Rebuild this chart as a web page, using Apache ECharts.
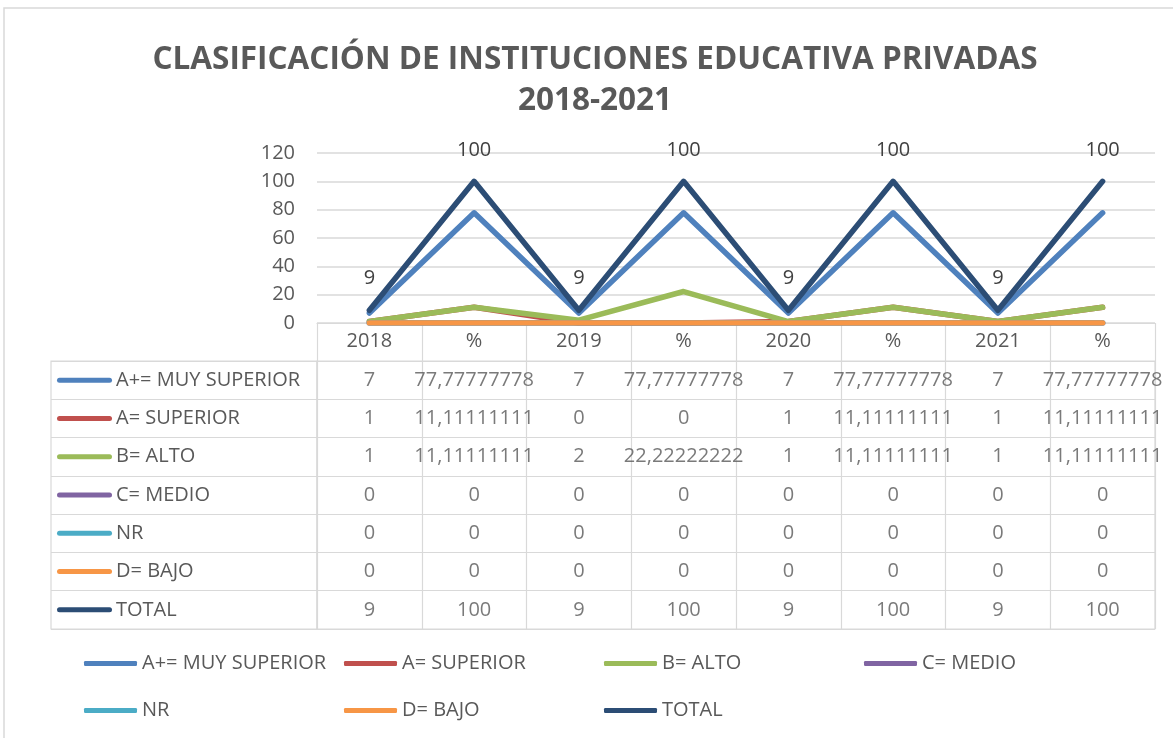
<!DOCTYPE html>
<html>
<head>
<meta charset="utf-8">
<script src="https://cdn.jsdelivr.net/npm/echarts@6/dist/echarts.min.js"></script>
<style>
html,body{margin:0;padding:0;background:#fff;}
#chart{width:1173px;height:738px;}
</style>
</head>
<body>
<div id="chart"></div>
<script>
var titleText = 'CLASIFICACIÓN DE INSTITUCIONES EDUCATIVA PRIVADAS\n2018-2021';
var categories = ['2018', '%', '2019', '%', '2020', '%', '2021', '%'];
var seriesNames = ['A+= MUY SUPERIOR', 'A= SUPERIOR', 'B= ALTO', 'C= MEDIO', 'NR', 'D= BAJO', 'TOTAL'];
var seriesColors = ['#4F81BD', '#C0504D', '#9BBB59', '#8064A2', '#4BACC6', '#F79646', '#2C4D75'];
var muySuperior = [7, 77.77777778, 7, 77.77777778, 7, 77.77777778, 7, 77.77777778];
var superior = [1, 11.11111111, 0, 0, 1, 11.11111111, 1, 11.11111111];
var alto = [1, 11.11111111, 2, 22.22222222, 1, 11.11111111, 1, 11.11111111];
var medio = [0, 0, 0, 0, 0, 0, 0, 0];
var nr = [0, 0, 0, 0, 0, 0, 0, 0];
var bajo = [0, 0, 0, 0, 0, 0, 0, 0];
var total = [9, 100, 9, 100, 9, 100, 9, 100];
var yTicks = {min: 0, max: 120, interval: 20};

var allValues = [muySuperior, superior, alto, medio, nr, bajo, total];
var FONT = "'Open Sans', sans-serif";
var TXT = '#595959';
var GRID = '#D9D9D9';

function fmt(v) { return String(v).replace('.', ','); }

var series = [];
allValues.forEach(function (vals, i) {
  var isTotal = i === 6;
  series.push({
    name: seriesNames[i],
    type: 'line',
    xAxisIndex: 0, yAxisIndex: 0,
    data: vals,
    symbol: 'circle',
    symbolSize: isTotal ? 1 : 0,
    showSymbol: isTotal,
    color: seriesColors[i],
    lineStyle: {width: 5.5, color: seriesColors[i], cap: 'round', join: 'round'},
    itemStyle: {color: seriesColors[i]},
    label: isTotal ? {show: true, position: 'top', distance: 21, color: '#404040', fontFamily: FONT, fontSize: 20} : {show: false},
    emphasis: {disabled: true},
    animation: false,
    z: 2 + i
  });
});

var cells = [];
allValues.forEach(function (vals, r) {
  vals.forEach(function (v, c) { cells.push([c, r, fmt(v)]); });
});
series.push({
  type: 'scatter',
  xAxisIndex: 1, yAxisIndex: 1,
  data: cells,
  symbolSize: 0,
  silent: true,
  animation: false,
  label: {
    show: true, position: 'inside', color: TXT, fontFamily: FONT, fontSize: 20,
    formatter: function (p) { return p.value[2]; }
  }
});

var richRows = {t: {color: TXT, fontFamily: FONT, fontSize: 20, padding: [0, 0, 0, 4]}};
seriesColors.forEach(function (c, i) {
  richRows['k' + i] = {width: 55, height: 5, backgroundColor: c, borderRadius: 3};
});

var chart = echarts.init(document.getElementById('chart'), null, {renderer: 'canvas'});
chart.setOption({
  animation: false,
  backgroundColor: '#fff',
  textStyle: {fontFamily: FONT},
  title: {
    text: titleText,
    left: 590, top: 35, textAlign: 'center',
    textStyle: {fontFamily: FONT, fontWeight: 'bold', fontSize: 31.5, color: TXT, lineHeight: 41}
  },
  graphic: [{
    type: 'rect', shape: {x: 4, y: 8, width: 1200, height: 800},
    style: {fill: 'none', stroke: GRID, lineWidth: 1.5}, silent: true
  }],
  legend: {
    left: 84, top: 640, width: 1060, padding: 0,
    itemWidth: 53, itemHeight: 5, itemGap: 0,
    icon: 'roundRect',
    data: seriesNames,
    textStyle: {fontFamily: FONT, fontSize: 20, color: TXT, width: 202, lineHeight: 47}
  },
  grid: [
    {left: 317, top: 153, width: 838, height: 170},
    {left: 317, top: 361, width: 838, height: 268, show: true, borderColor: GRID, borderWidth: 1.2},
    {left: 51, top: 361, width: 266, height: 268, show: true, borderColor: GRID, borderWidth: 1.2}
  ],
  xAxis: [
    {
      gridIndex: 0, type: 'category', data: categories, boundaryGap: true,
      axisLine: {show: true, lineStyle: {color: GRID, width: 1.2}},
      axisTick: {show: true, interval: 0, length: 38, lineStyle: {color: GRID, width: 1.2}},
      axisLabel: {interval: 0, margin: 8, color: TXT, fontFamily: FONT, fontSize: 20}
    },
    {
      gridIndex: 1, type: 'category', data: categories, boundaryGap: true,
      axisLine: {show: false}, axisTick: {show: false}, axisLabel: {show: false},
      splitLine: {show: true, interval: 0, lineStyle: {color: GRID, width: 1.2}}
    },
    {gridIndex: 2, type: 'value', show: false, min: 0, max: 1}
  ],
  yAxis: [
    {
      gridIndex: 0, type: 'value', min: yTicks.min, max: yTicks.max, interval: yTicks.interval,
      axisLine: {show: false}, axisTick: {show: false},
      axisLabel: {margin: 22, color: TXT, fontFamily: FONT, fontSize: 20},
      splitLine: {lineStyle: {color: GRID, width: 1.5}}
    },
    {
      gridIndex: 1, type: 'category', data: seriesNames, inverse: true,
      axisLine: {show: false}, axisTick: {show: false}, axisLabel: {show: false},
      splitLine: {show: true, interval: 0, lineStyle: {color: GRID, width: 1.2}}
    },
    {
      gridIndex: 2, type: 'category', data: seriesNames, inverse: true,
      axisLine: {show: false}, axisTick: {show: false},
      splitLine: {show: true, interval: 0, lineStyle: {color: GRID, width: 1.2}},
      axisLabel: {
        inside: true, margin: 6, interval: 0, align: 'left',
        formatter: function (v, idx) { return '{k' + idx + '|}{t|' + v + '}'; },
        rich: richRows
      }
    }
  ],
  series: series
});
</script>
</body>
</html>
